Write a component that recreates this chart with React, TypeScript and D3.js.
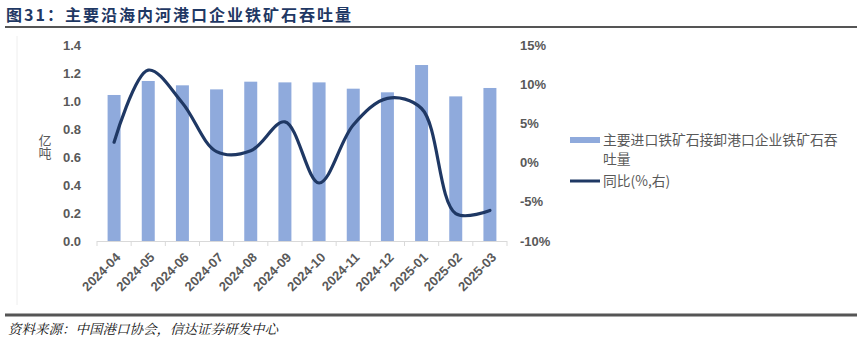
import React from "react";
import * as d3 from "d3";

const categories = ["2024-04","2024-05","2024-06","2024-07","2024-08","2024-09","2024-10","2024-11","2024-12","2025-01","2025-02","2025-03"];
const throughput = [1.043,1.143,1.112,1.083,1.138,1.133,1.133,1.088,1.062,1.257,1.033,1.093];
const yoy = [2.6,11.8,7.6,1.4,1.5,5.2,-2.6,4.8,8.2,6.9,-6.5,-6.1];
const leftTicks = [0,0.2,0.4,0.6,0.8,1.0,1.2,1.4];
const rightTicks = [-10,-5,0,5,10,15];

export default function App() {
  const W = 862, H = 344;
  const x0 = 97, x1 = 507, yTop = 45, yBot = 241;
  const x = d3.scaleBand().domain(categories).range([x0, x1]).paddingInner(0.62).paddingOuter(0.31);
  const xc = (c: string) => (x(c) as number) + x.bandwidth() / 2;
  const yL = d3.scaleLinear().domain([0, 1.4]).range([yBot, yTop]);
  const yR = d3.scaleLinear().domain([-10, 15]).range([yBot, yTop]);
  const line = d3.line<number>().x((_, i) => xc(categories[i])).y(d => yR(d)).curve(d3.curveCatmullRom.alpha(0.5));
  const step = (x1 - x0) / categories.length;
  const tickFont = "'Liberation Sans', Arial, sans-serif";
  const cjk = "'Noto Sans CJK SC', sans-serif";
  return (
    <svg width={W} height={H} style={{ position: "absolute", left: 0, top: 0, background: "#fff" }}>
      <text x={6} y={21} fontFamily={cjk} fontWeight={700} fontSize={16} fill="#1F3864" letterSpacing={2}>图31：主要沿海内河港口企业铁矿石吞吐量</text>
      <line x1={5} x2={857} y1={27} y2={27} stroke="#555" strokeWidth={2} />
      <line x1={17} x2={17} y1={36} y2={305} stroke="#eeeeee" strokeWidth={1} />
      {leftTicks.map(t => (
        <text key={"l" + t} x={81} y={yL(t)} dy="0.35em" textAnchor="end" fontFamily={tickFont} fontWeight={700} fontSize={13} fill="#595959">{t.toFixed(1)}</text>
      ))}
      {rightTicks.map(t => (
        <text key={"r" + t} x={520} y={yR(t)} dy="0.35em" textAnchor="start" fontFamily={tickFont} fontWeight={700} fontSize={13} fill="#595959">{t + "%"}</text>
      ))}
      <text x={45} y={134} fontFamily={cjk} fontSize={13} fill="#595959" style={{ writingMode: "vertical-rl", textOrientation: "upright" } as any}>亿吨</text>
      {categories.map((c, i) => (
        <rect key={c} x={x(c)} y={yL(throughput[i])} width={x.bandwidth()} height={yL(0) - yL(throughput[i])} fill="#8FAADC" />
      ))}
      <line x1={x0} x2={x1} y1={yBot + 0.5} y2={yBot + 0.5} stroke="#d9d9d9" strokeWidth={1} />
      {d3.range(categories.length + 1).map(i => (
        <line key={"t" + i} x1={x0 + i * step} x2={x0 + i * step} y1={yBot} y2={yBot + 5} stroke="#d9d9d9" strokeWidth={1} />
      ))}
      <path d={line(yoy) || ""} fill="none" stroke="#1F3864" strokeWidth={3.2} strokeLinecap="round" />
      {categories.map(c => (
        <text key={"x" + c} transform={`translate(${xc(c) + 4},${yBot + 14}) rotate(-45)`} textAnchor="end" dy="0.35em" fontFamily={tickFont} fontWeight={700} fontSize={13} fill="#595959">{c}</text>
      ))}
      <rect x={570} y={137} width={30} height={6} fill="#8FAADC" />
      <text x={603} y={140.5} dy="0.35em" fontFamily={cjk} fontSize={13.8} fill="#595959">主要进口铁矿石接卸港口企业铁矿石吞</text>
      <text x={603} y={159} dy="0.35em" fontFamily={cjk} fontSize={13.8} fill="#595959">吐量</text>
      <line x1={570} x2={600} y1={181} y2={181} stroke="#1F3864" strokeWidth={3} />
      <text x={603} y={181} dy="0.35em" fontFamily={cjk} fontSize={13.8} fill="#595959">同比(%,右)</text>
      <line x1={5} x2={857} y1={315} y2={315} stroke="#555" strokeWidth={3} />
      <text x={8} y={329} dy="0.35em" fontFamily="'Noto Serif CJK SC', 'Noto Sans CJK SC', serif" fontStyle="italic" fontSize={13.5} fill="#111">资料来源：中国港口协会，信达证券研发中心</text>
    </svg>
  );
}
